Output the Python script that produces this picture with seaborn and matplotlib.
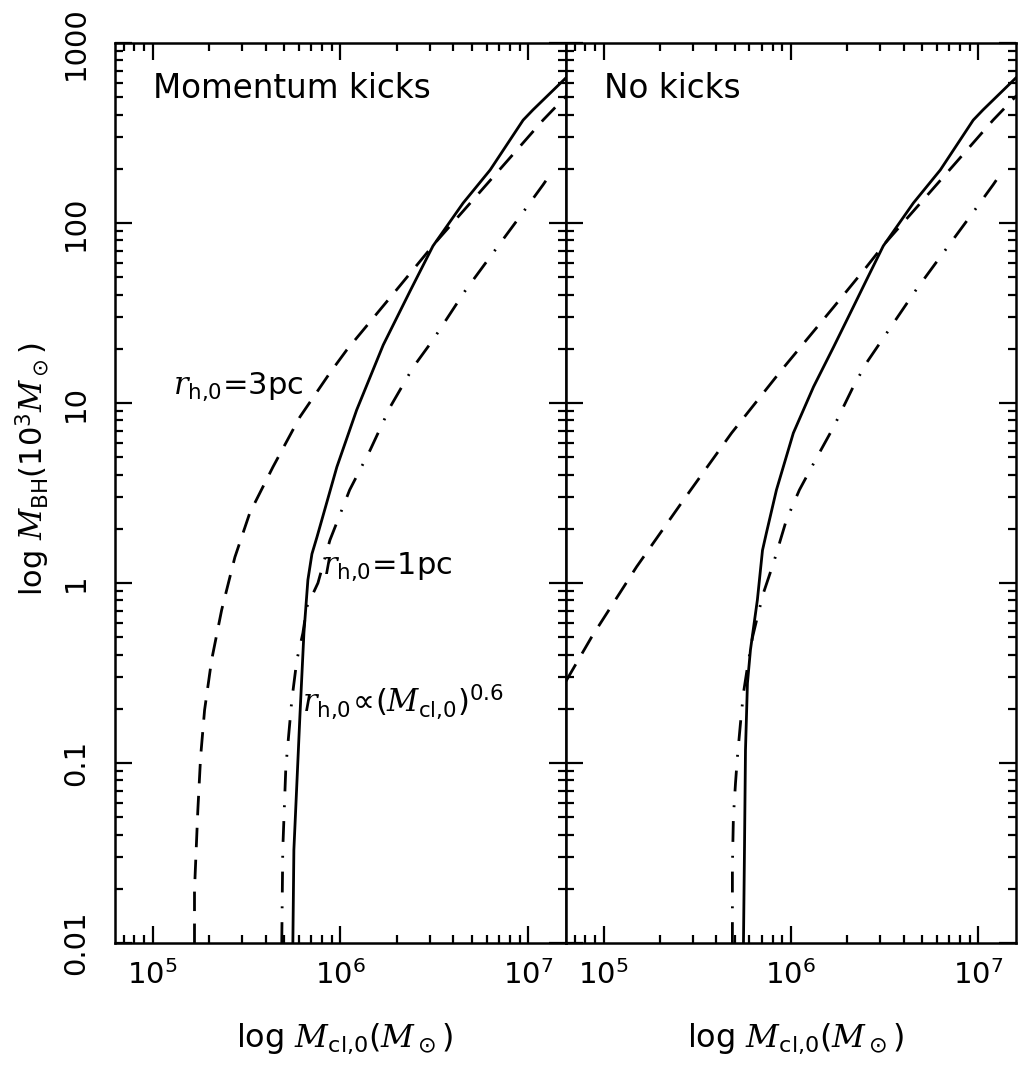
import numpy as np
import pandas as pd
import seaborn as sns
import matplotlib
matplotlib.use('Agg')
import matplotlib.pyplot as plt
from matplotlib.ticker import LogLocator, NullFormatter

# 읽어낸 값 : 성단 초기 질량 (M_sun) 과 블랙홀 질량 (10^3 M_sun)
# Momentum kicks 패널
kick_3pc_m = [1.67e5, 1.67e5, 1.74e5, 1.80e5, 1.89e5, 2.06e5, 2.33e5, 2.74e5, 3.29e5,
              4.37e5, 6.08e5, 8.79e5, 1.08e6, 2.07e6, 3.19e6, 4.91e6, 7.73e6, 1.20e7, 1.60e7]
kick_3pc_bh = [0.01, 0.0197, 0.0548, 0.108, 0.197, 0.373, 0.708, 1.39, 2.45,
               4.41, 8.36, 14.7, 19.7, 44.7, 77.4, 129, 221, 373, 510]

kick_1pc_m = [5.58e5, 5.65e5, 6.08e5, 6.39e5, 6.71e5, 7.05e5, 7.50e5, 9.57e5, 1.22e6,
              1.69e6, 2.35e6, 3.11e6, 4.50e6, 6.27e6, 9.40e6, 1.06e7, 1.60e7]
kick_1pc_bh = [0.01, 0.0329, 0.18, 0.527, 1.04, 1.45, 1.80, 4.41, 9.14,
               21.0, 41.9, 74.5, 129, 197, 373, 425, 645]

kick_pow_m = [4.87e5, 4.93e5, 5.12e5, 5.51e5, 5.86e5, 6.31e5, 6.62e5, 7.59e5, 8.79e5,
              1.12e6, 1.44e6, 1.84e6, 2.44e6, 3.11e6, 4.61e6, 6.04e6, 9.06e6, 1.20e7, 1.36e7]
kick_pow_bh = [0.01, 0.0329, 0.095, 0.224, 0.373, 0.527, 0.736, 1.0, 1.73,
               3.29, 5.48, 9.5, 15.8, 22.4, 41.9, 61.5, 109, 163, 197]

# No kicks 패널
nokick_3pc_m = [6.3e4, 8.63e4, 1.50e5, 2.67e5, 4.82e5, 8.89e5, 1.69e6, 2.53e6, 3.19e6,
                4.91e6, 7.73e6, 1.20e7, 1.60e7]
nokick_3pc_bh = [0.285, 0.501, 1.23, 2.89, 6.81, 15.2, 34.1, 57, 77.4,
                 129, 221, 373, 510]

nokick_1pc_m = [5.58e5, 5.65e5, 5.72e5, 5.86e5, 6.08e5, 6.62e5, 7.05e5, 7.40e5, 8.37e5,
                1.03e6, 1.32e6, 1.69e6, 2.15e6, 2.53e6, 3.11e6, 4.50e6, 6.27e6, 9.40e6,
                1.06e7, 1.60e7]
nokick_1pc_bh = [0.01, 0.0329, 0.118, 0.278, 0.425, 0.805, 1.52, 1.90, 3.29,
                 6.81, 12.3, 20.5, 34.1, 48.2, 74.5, 129, 197, 373,
                 425, 645]

nokick_pow_m = [4.87e5, 4.87e5, 4.93e5, 5.06e5, 5.18e5, 5.38e5, 5.58e5, 5.86e5, 6.24e5,
                6.62e5, 7.13e5, 8.07e5, 9.46e5, 1.11e6, 1.37e6, 1.69e6, 2.15e6, 2.53e6,
                4.61e6, 6.04e6, 9.06e6, 1.20e7, 1.36e7]
nokick_pow_bh = [0.01, 0.0264, 0.05, 0.0774, 0.108, 0.167, 0.245, 0.341, 0.501,
                 0.647, 0.879, 1.29, 2.24, 3.29, 4.95, 7.36, 12.3, 16.7,
                 41.9, 61.5, 109, 163, 197]

panel_titles = ['Momentum kicks', 'No kicks']
y_ticks = [0.01, 0.1, 1, 10, 100, 1000]
y_ticklabels = ['0.01', '0.1', '1', '10', '100', '1000']

sns.set_style('ticks')
plt.rcParams['font.family'] = ['DejaVu Sans']
plt.rcParams['text.color'] = 'black'
plt.rcParams['axes.labelcolor'] = 'black'
plt.rcParams['mathtext.fontset'] = 'custom'
plt.rcParams['mathtext.rm'] = 'DejaVu Sans'
plt.rcParams['mathtext.it'] = 'DejaVu Serif:italic'
plt.rcParams['mathtext.bf'] = 'DejaVu Sans:bold'
plt.rcParams['mathtext.sf'] = 'DejaVu Sans'

dash = (0, (7, 4.5))
dashdot = (0, (7.5, 5, 0.7, 5))

fig = plt.figure(figsize=(10.19, 10.75), dpi=100)
ax1 = fig.add_axes([115 / 1019, 1 - 943 / 1075, 451 / 1019, 900 / 1075])
ax2 = fig.add_axes([566 / 1019, 1 - 943 / 1075, 450 / 1019, 900 / 1075])

curves = [
    (ax1, kick_3pc_m, kick_3pc_bh, dash),
    (ax1, kick_1pc_m, kick_1pc_bh, '-'),
    (ax1, kick_pow_m, kick_pow_bh, dashdot),
    (ax2, nokick_3pc_m, nokick_3pc_bh, dash),
    (ax2, nokick_1pc_m, nokick_1pc_bh, '-'),
    (ax2, nokick_pow_m, nokick_pow_bh, dashdot),
]
for ax, xm, ybh, ls in curves:
    df = pd.DataFrame({'M_cl': xm, 'M_BH': ybh})
    sns.lineplot(data=df, x='M_cl', y='M_BH', ax=ax, color='black', lw=2,
                 linestyle=ls, sort=False, estimator=None)

for i, ax in enumerate([ax1, ax2]):
    ax.set_xscale('log')
    ax.set_yscale('log')
    ax.set_xlim(6.3e4, 1.59e7)
    ax.set_ylim(0.01, 1000)
    ax.xaxis.set_major_locator(LogLocator(base=10, numticks=10))
    ax.xaxis.set_minor_locator(LogLocator(base=10, subs=np.arange(2, 10), numticks=20))
    ax.xaxis.set_minor_formatter(NullFormatter())
    ax.set_yticks(y_ticks)
    ax.yaxis.set_minor_locator(LogLocator(base=10, subs=np.arange(2, 10), numticks=20))
    ax.yaxis.set_minor_formatter(NullFormatter())
    ax.tick_params(which='both', direction='in', top=True, right=True, width=1.6,
                   labelsize=21, colors='black')
    ax.tick_params(which='major', length=12)
    ax.tick_params(which='minor', length=6)
    ax.tick_params(axis='x', pad=12)
    for sp in ax.spines.values():
        sp.set_linewidth(1.8)
        sp.set_color('black')
    ax.set_xlabel(r'log $M_{\rm cl{,}0}(M_\odot)$', fontsize=23)
    ax.xaxis.set_label_coords(0.51, -0.088)
    ax.text(0.084, 0.95, panel_titles[i], transform=ax.transAxes, fontsize=23.5,
            ha='left', va='center')

ax1.set_yticklabels(y_ticklabels, rotation=90, va='center')
ax1.tick_params(axis='y', pad=18)
ax2.set_yticklabels([])
ax1.set_ylabel(r'log $M_{\rm BH}(10^3M_\odot)$', fontsize=22)
ax1.yaxis.set_label_coords(-0.14, 0.526)
ax2.set_ylabel('')

ax1.text(0.128, 0.618, r'$r_{\rm h{,}0}$=3pc', transform=ax1.transAxes, fontsize=22,
         ha='left', va='center')
ax1.text(0.458, 0.418, r'$r_{\rm h{,}0}$=1pc', transform=ax1.transAxes, fontsize=22,
         ha='left', va='center')
ax1.text(0.414, 0.268, r'$r_{\rm h{,}0}\!\propto\!(M_{\rm cl{,}0})^{0.6}$', transform=ax1.transAxes,
         fontsize=22, ha='left', va='center')

plt.savefig('out.png', dpi=100)
